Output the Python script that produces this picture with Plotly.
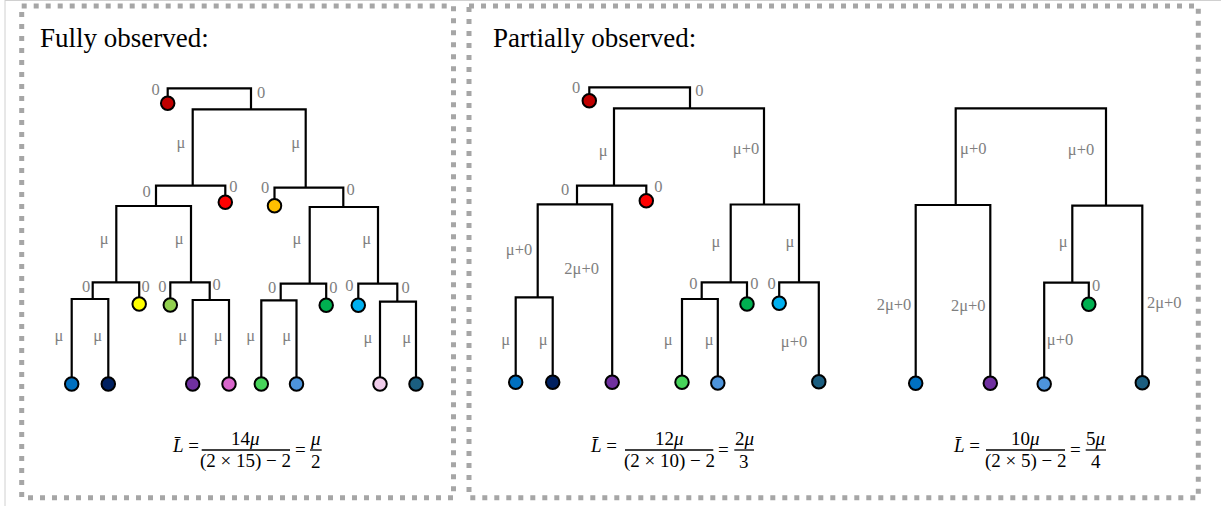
import plotly.graph_objects as go
from fractions import Fraction

W, H = 1221, 506

# ---------------- tree topology, branch labels and tip colours ----------------
# Fully observed tree: 15 sampled tips, every ancestor observed
full_parent = [-1, 0, 0, 2, 2, 3, 3, 4, 4, 6, 6, 8, 8, 9, 9, 10, 10, 11, 11, 12, 12,
               13, 13, 16, 16, 17, 17, 20, 20]
full_label = ["", "0", "0", "μ", "μ", "0", "0", "0", "0", "μ", "μ", "μ", "μ",
              "0", "0", "0", "0", "0", "0", "0", "0",
              "μ", "μ", "μ", "μ", "μ", "μ", "μ", "μ"]
full_tip = [None, "#C00000", None, None, None, "#FF0000", None, "#FFC000", None,
            None, None, None, None, None, "#FFFF00", "#92D050", None, None, "#00B050",
            "#00B0F0", None, "#0070C0", "#002060", "#7030A0", "#D966CC", "#47D45A",
            "#4D94DB", "#F0CCEA", "#1B5E80"]

# Partially observed tree: 10 tips
part_parent = [-1, 0, 0, 2, 2, 3, 3, 4, 4, 6, 6, 7, 7, 8, 8, 9, 9, 11, 11]
part_label = ["", "0", "0", "μ", "μ+0", "0", "0", "μ", "μ", "μ+0", "2μ+0",
              "0", "0", "0", "μ+0", "μ", "μ", "μ", "μ"]
part_tip = [None, "#C00000", None, None, None, "#FF0000", None, None, None, None,
            "#7030A0", None, "#00B050", "#00B0F0", "#1B5E80", "#0070C0", "#002060",
            "#47D45A", "#4D94DB"]

# Partially observed tree: 5 tips
few_parent = [-1, 0, 0, 1, 1, 2, 2, 5, 5]
few_label = ["", "μ+0", "μ+0", "2μ+0", "2μ+0", "μ", "2μ+0", "μ+0", "0"]
few_tip = [None, None, None, "#0070C0", "#7030A0", None, "#1B5E80", "#4D94DB", "#00B050"]

# ---------------- drawing layout (pixel coordinates of nodes and labels) ----------------
full_x = [209, 167.7, 251, 192.7, 305.7, 225.3, 156, 274.5, 343.3, 116.3, 191, 309.7, 378,
          92.7, 139.2, 170.3, 209.7, 280.7, 326.2, 358.3, 397.3,
          71.7, 108.3, 192.7, 229, 261.3, 296.5, 380, 416]
full_y = [88.3, 103.3, 109.3, 185.7, 187.7, 202.3, 206, 205.7, 207, 282.3, 282.3, 283.7, 283.7,
          299, 304, 305, 300, 300.3, 305.3, 305.3, 301.7,
          384, 384, 384, 384, 384, 384, 384, 384]
full_lab_x = [None, 155.7, 261, 181, 295.7, 233.3, 146.7, 265, 350.7, 104.3, 179.3, 297, 366.7,
              86, 145.7, 162.3, 216.7, 272, 333.3, 349.3, 405.7,
              59, 97.7, 182.7, 218.3, 250.7, 286.7, 368, 406.7]
full_lab_y = [None, 90.7, 94.3, 144, 144, 188.3, 193.3, 189.3, 191, 240, 240, 240, 240,
              287.7, 287.7, 287.7, 285.7, 289, 289, 286.7, 289,
              336.7, 336.7, 336.7, 336.7, 336.7, 336.7, 339, 339]

part_x = [640, 589.3, 690, 614, 764, 646.3, 577, 730.7, 799, 537.7, 612.2,
          701.7, 747, 779.2, 818.8, 515.7, 552.7, 682, 717.8]
part_y = [87.3, 100.7, 108.3, 185.7, 204.5, 200.7, 204.3, 282.3, 282.3, 297.3, 382.3,
          299, 304, 303.3, 381.7, 382.3, 382.3, 382.3, 383]
part_lab_x = [None, 576, 699.3, 603.3, 746, 658.3, 565, 716, 790, 519, 581.7,
              693.3, 754.3, 771.7, 794, 505.7, 543.3, 668.3, 709.3]
part_lab_y = [None, 89.3, 91.7, 151.7, 150, 188.3, 190.7, 243.3, 243.3, 251, 270,
              285, 285, 285, 342.7, 340.7, 340.7, 340.7, 340.7]

few_x = [1030, 955.7, 1106, 915.7, 990.3, 1072.3, 1142.3, 1044.2, 1088.8]
few_y = [108.3, 205, 205.7, 383.3, 383.3, 282.7, 382.7, 384, 304.3]
few_lab_x = [None, 973.3, 1081, 894, 968.3, 1063.3, 1164.3, 1060, 1096]
few_lab_y = [None, 150, 150.7, 306, 307.3, 243.3, 304, 340.7, 287.3]

# formula placement: (L-bar right edge, main bar start, main bar end, result bar start, result bar end)
formula_pos = [(200.5, 201.7, 290.0, 310.0, 321.7),
               (618.5, 625.0, 713.3, 734.3, 754.0),
               (981.5, 986.0, 1065.0, 1085.7, 1106.0)]

titles = [("Fully observed:", 38), ("Partially observed:", 491)]

SERIF = "Liberation Serif"
GREY = "#7F7F7F"

fig = go.Figure()
shapes = []
annotations = []


def mu_coeff(lab):
    """Number of mutations (multiples of mu) carried by a branch label."""
    if "μ" not in lab:
        return 0
    head = lab.split("μ")[0]
    return int(head) if head else 1


def mu_text(k):
    return ("" if k == 1 else str(k)) + "<i>μ</i>"


def draw_tree(parent, label, tip, xs, ys, lab_x, lab_y):
    n = len(parent)
    ex, ey = [], []
    for p in range(n):
        kids = sorted([c for c in range(n) if parent[c] == p], key=lambda c: xs[c])
        if not kids:
            continue
        a, b = kids[0], kids[-1]
        ex += [xs[a], xs[a], xs[b], xs[b], None]
        ey += [ys[a], ys[p], ys[p], ys[b], None]
    fig.add_trace(go.Scatter(x=ex, y=ey, mode="lines",
                             line=dict(color="black", width=2.2),
                             hoverinfo="skip", showlegend=False))
    leaves = [i for i in range(n) if tip[i]]
    fig.add_trace(go.Scatter(x=[xs[i] for i in leaves], y=[ys[i] for i in leaves],
                             mode="markers",
                             marker=dict(size=13.5, color=[tip[i] for i in leaves],
                                         line=dict(color="black", width=2)),
                             hoverinfo="skip", showlegend=False))
    li = [i for i in range(n) if label[i]]
    fig.add_trace(go.Scatter(x=[lab_x[i] for i in li], y=[lab_y[i] for i in li],
                             mode="text", text=[label[i] for i in li],
                             textposition="middle center",
                             textfont=dict(family=SERIF, size=16.5, color=GREY),
                             hoverinfo="skip", showlegend=False))
    # mean branch length = total mutations / number of branches
    total = sum(mu_coeff(l) for l in label)
    tips = len(leaves)
    mean = Fraction(total, 2 * tips - 2)
    return total, tips, mean


def draw_formula(total, tips, mean, pos):
    lx, b0, b1, r0, r1 = pos
    fy, ny, dy = 450.0, 438.5, 461.0
    fnt = dict(family=SERIF, size=19, color="black")
    annotations.append(dict(x=lx, y=445, text="<i>L̄</i> =", showarrow=False,
                            xanchor="right", yanchor="middle", font=fnt))
    cx = (b0 + b1) / 2
    annotations.append(dict(x=cx, y=ny, text=f"{total}<i>μ</i>", showarrow=False,
                            xanchor="center", yanchor="middle", font=fnt))
    annotations.append(dict(x=cx, y=dy, text=f"(2 × {tips}) − 2", showarrow=False,
                            xanchor="center", yanchor="middle", font=fnt))
    shapes.append(dict(type="line", x0=b0, x1=b1, y0=fy, y1=fy,
                       line=dict(color="black", width=1.3)))
    annotations.append(dict(x=(b1 + r0) / 2, y=fy - 1, text="=", showarrow=False,
                            xanchor="center", yanchor="middle", font=fnt))
    rx = (r0 + r1) / 2
    annotations.append(dict(x=rx, y=ny, text=mu_text(mean.numerator), showarrow=False,
                            xanchor="center", yanchor="middle", font=fnt))
    annotations.append(dict(x=rx, y=dy, text=str(mean.denominator), showarrow=False,
                            xanchor="center", yanchor="middle", font=fnt))
    shapes.append(dict(type="line", x0=r0, x1=r1, y0=fy, y1=fy,
                       line=dict(color="black", width=1.3)))


trees = [(full_parent, full_label, full_tip, full_x, full_y, full_lab_x, full_lab_y),
         (part_parent, part_label, part_tip, part_x, part_y, part_lab_x, part_lab_y),
         (few_parent, few_label, few_tip, few_x, few_y, few_lab_x, few_lab_y)]

for t, pos in zip(trees, formula_pos):
    total, tips, mean = draw_tree(*t)
    draw_formula(total, tips, mean, pos)

for text, x in titles:
    annotations.append(dict(x=x, y=38, text=text, showarrow=False, xanchor="left",
                            yanchor="middle",
                            font=dict(family=SERIF, size=27, color="black")))

# panel frames
frame = dict(color="#A6A6A6", width=5, dash="5px,7px")
shapes.append(dict(type="rect", x0=21.7, x1=453.5, y0=6, y1=497.7, line=frame, layer="below"))
shapes.append(dict(type="rect", x0=469, x1=1198.3, y0=6, y1=497.7, line=frame, layer="below"))
shapes.append(dict(type="line", x0=5, x1=5, y0=0, y1=H, line=dict(color="#D0D0D0", width=1)))
shapes.append(dict(type="line", x0=5, x1=W, y0=0.5, y1=0.5, line=dict(color="#D0D0D0", width=1)))

fig.update_layout(
    width=W, height=H, margin=dict(l=0, r=0, t=0, b=0),
    paper_bgcolor="white", plot_bgcolor="white",
    xaxis=dict(range=[0, W], visible=False, fixedrange=True),
    yaxis=dict(range=[H, 0], visible=False, fixedrange=True),
    shapes=shapes, annotations=annotations, showlegend=False,
)

fig.write_html("out.html", config={"displayModeBar": False})
